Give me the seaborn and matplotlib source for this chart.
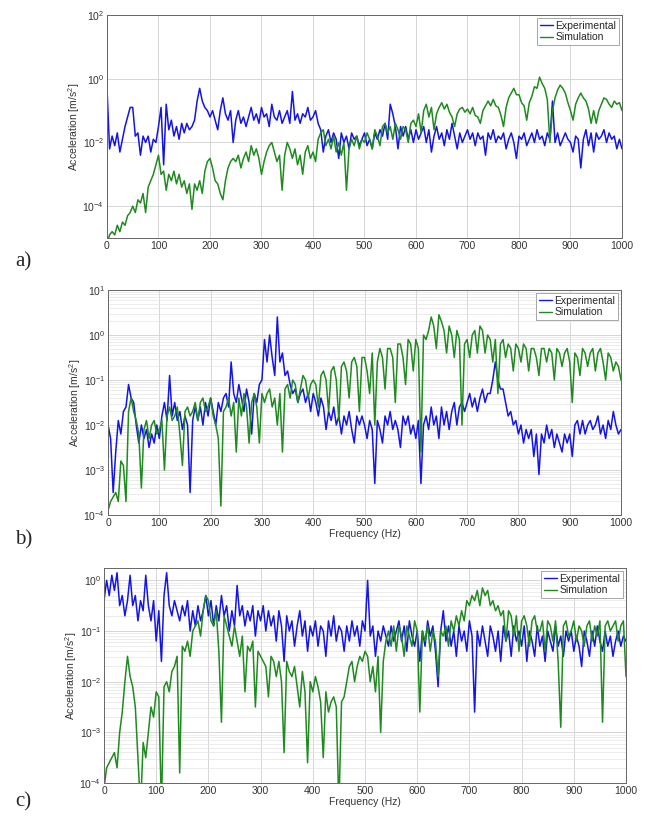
import numpy as np
import pandas as pd
import matplotlib
matplotlib.use("Agg")
import matplotlib.pyplot as plt
from matplotlib.lines import Line2D
import seaborn as sns
from matplotlib.ticker import FixedLocator, LogFormatterSciNotation, LogLocator, NullFormatter

# Frequency axis (Hz), 5 Hz spacing
freq = list(range(0, 1001, 5))

# log10 of acceleration [m/s^2]
a_exp_log = [
    -0.3, -2.2, -1.8, -2.1, -1.7, -2.3, -1.9, -1.5, -1.2, -0.9,
    -0.9, -1.8, -1.7, -2.4, -1.8, -2.0, -1.8, -2.3, -1.9, -2.0,
    -1.5, -0.9, -2.7, -0.8, -1.6, -1.3, -1.8, -1.5, -1.9, -1.4,
    -1.7, -1.4, -1.6, -1.5, -1.3, -0.7, -0.3, -0.7, -0.9, -1.0,
    -1.2, -1.0, -1.3, -1.6, -1.0, -0.6, -1.1, -1.3, -1.0, -2.0,
    -1.3, -1.0, -1.4, -1.2, -1.5, -1.2, -0.9, -1.3, -1.1, -1.4,
    -0.9, -1.2, -1.1, -1.5, -0.8, -1.2, -1.3, -1.0, -1.4, -1.2,
    -1.0, -1.4, -0.4, -1.3, -1.1, -1.4, -1.1, -1.2, -0.9, -1.3,
    -1.2, -1.0, -1.4, -1.6, -2.3, -1.8, -1.6, -2.0, -1.7, -1.9,
    -2.5, -1.7, -2.0, -1.8, -2.2, -1.7, -1.9, -1.8, -2.1, -1.9,
    -1.7, -2.1, -1.9, -2.2, -1.7, -1.9, -1.6, -1.8, -1.4, -1.9,
    -0.8, -1.1, -1.5, -2.2, -1.5, -1.8, -1.5, -1.9, -1.6, -2.0,
    -1.6, -1.9, -1.7, -1.5, -2.0, -1.6, -2.3, -1.8, -1.5, -1.9,
    -1.7, -2.1, -1.6, -1.9, -1.4, -1.8, -2.2, -1.7, -2.0, -1.8,
    -1.6, -1.9, -1.7, -2.1, -1.7, -1.9, -1.8, -2.4, -1.7, -1.9,
    -1.6, -2.0, -1.8, -1.9, -1.7, -2.2, -1.9, -1.7, -2.0, -2.5,
    -1.8, -1.9, -1.7, -2.1, -1.9, -1.7, -2.0, -1.6, -1.9, -1.8,
    -2.1, -1.7, -1.9, -0.7, -2.0, -1.7, -2.1, -1.9, -1.7, -1.9,
    -2.0, -2.3, -1.8, -1.9, -2.8, -1.9, -1.6, -2.1, -1.7, -2.3,
    -1.7, -1.9, -1.8, -1.6, -2.0, -1.7, -1.9, -1.8, -2.2, -1.9,
    -2.2]
a_sim_log = [
    -5.2, -4.9, -4.8, -4.9, -4.6, -4.8, -4.5, -4.6, -4.3, -4.2,
    -4.0, -4.2, -3.8, -3.9, -3.6, -4.2, -3.4, -3.2, -3.0, -2.7,
    -2.4, -3.0, -2.9, -3.5, -3.0, -3.2, -2.9, -3.3, -3.0, -3.4,
    -3.2, -3.6, -3.3, -4.1, -3.3, -3.5, -3.2, -3.6, -2.9, -2.6,
    -2.5, -2.8, -3.2, -3.3, -3.6, -3.8, -3.2, -2.8, -2.6, -2.5,
    -2.6, -2.4, -2.8, -2.5, -2.3, -2.6, -2.1, -2.4, -2.2, -2.5,
    -3.0, -2.6, -2.3, -2.1, -2.0, -2.3, -2.6, -2.4, -3.5, -2.4,
    -2.0, -2.2, -2.5, -2.2, -2.7, -2.4, -3.0, -2.3, -2.1, -2.5,
    -2.3, -2.6, -1.9, -1.7, -1.6, -2.1, -1.9, -2.2, -1.8, -2.3,
    -2.0, -2.4, -2.0, -3.5, -2.2, -1.9, -2.1, -1.8, -2.2, -1.9,
    -2.0, -1.7, -1.9, -2.2, -1.6, -1.8, -2.1, -1.5, -1.4, -1.7,
    -1.5, -1.9, -1.4, -1.6, -1.9, -1.5, -1.6, -2.0, -1.4, -1.3,
    -1.5, -1.1, -1.7, -1.0, -0.8, -1.2, -0.9, -1.6, -1.1, -0.9,
    -0.75, -0.95, -0.8, -1.05, -1.2, -1.5, -1.1, -0.95, -0.9, -1.05,
    -0.95, -1.1, -0.9, -1.15, -1.2, -1.4, -1.0, -0.85, -0.7, -0.85,
    -0.65, -0.85, -0.9, -1.15, -1.5, -0.9, -0.6, -0.45, -0.3, -0.5,
    -0.5, -0.75, -0.85, -1.3, -0.75, -0.55, -0.25, -0.3, 0.05, -0.15,
    -0.3, -0.65, -2.0, -1.0, -0.6, -0.35, -0.2, -0.3, -0.45, -0.75,
    -1.0, -1.3, -0.8, -0.6, -0.45, -0.6, -0.7, -0.95, -1.4, -1.0,
    -1.4, -1.0, -0.8, -0.6, -0.65, -0.8, -0.9, -0.7, -0.8, -0.75,
    -1.0]
b_exp_log = [
    -2.0, -2.3, -3.5, -2.6, -1.9, -2.2, -1.7, -1.6, -1.1, -1.4,
    -1.5, -2.0, -2.4, -2.0, -2.3, -2.1, -2.5, -2.2, -2.4, -2.0,
    -2.3, -1.8, -1.5, -1.9, -0.9, -1.8, -1.5, -1.9, -1.7, -2.1,
    -1.8, -2.0, -3.5, -1.9, -1.6, -1.9, -1.6, -2.0, -1.5, -1.8,
    -1.4, -1.7, -2.0, -1.5, -1.7, -1.4, -1.3, -1.6, -0.6, -1.3,
    -1.5, -1.1, -1.4, -1.7, -1.2, -1.5, -2.2, -1.3, -1.5, -1.1,
    -1.0, -0.1, -0.6, 0.0, -0.5, -0.9, 0.4, -0.6, -0.4, -0.9,
    -0.8, -1.1, -1.3, -1.2, -1.5, -1.3, -1.2, -1.5, -1.3, -1.7,
    -1.3, -1.5, -1.8, -1.4, -1.6, -2.1, -1.7, -1.9, -1.6, -2.0,
    -1.8, -2.2, -1.8, -2.0, -1.7, -2.1, -2.4, -1.8, -2.0, -1.8,
    -2.0, -2.3, -1.9, -2.1, -3.3, -1.9, -2.1, -2.4, -1.8, -2.0,
    -1.7, -2.1, -1.9, -2.1, -2.5, -1.8, -2.0, -1.8, -2.2, -2.0,
    -2.3, -1.9, -3.3, -2.0, -1.8, -2.1, -1.6, -2.0, -1.8, -2.3,
    -1.6, -2.0, -1.7, -2.1, -1.7, -1.5, -2.0, -1.6, -1.5, -1.7,
    -1.5, -1.3, -1.6, -1.4, -1.7, -1.4, -1.2, -1.5, -1.3, -1.3,
    -1.0, -0.6, -1.0, -1.2, -1.2, -1.5, -1.8, -1.7, -2.0, -1.9,
    -2.2, -2.0, -2.4, -2.1, -2.3, -2.1, -2.7, -2.2, -3.1, -2.2,
    -2.4, -2.0, -2.3, -2.1, -2.5, -2.2, -2.4, -2.6, -2.2, -2.4,
    -2.2, -2.7, -2.0, -1.9, -2.2, -1.9, -2.2, -2.0, -1.9, -2.1,
    -2.0, -1.8, -2.2, -2.0, -2.3, -1.9, -2.1, -1.7, -2.0, -2.2,
    -2.1]
b_sim_log = [
    -3.9, -3.7, -3.6, -3.5, -3.7, -2.8, -2.9, -3.7, -1.7, -1.4,
    -1.7, -1.9, -2.2, -3.4, -2.1, -1.9, -2.3, -2.0, -1.9, -2.2,
    -2.1, -1.9, -3.0, -1.8, -1.6, -1.9, -1.8, -1.6, -2.2, -2.9,
    -1.7, -1.6, -1.8, -1.7, -1.5, -1.9, -1.5, -1.4, -1.7, -1.6,
    -1.4, -1.8, -2.0, -2.3, -3.8, -1.7, -1.6, -1.4, -1.8, -1.5,
    -2.6, -1.4, -1.8, -1.3, -1.6, -2.4, -1.5, -1.3, -1.6, -2.4,
    -1.3, -1.5, -1.3, -1.2, -1.6, -1.4, -2.0, -1.3, -2.6, -1.2,
    -1.1, -1.4, -1.0, -1.1, -1.5, -1.2, -0.9, -1.0, -1.4, -1.1,
    -1.0, -1.1, -1.6, -0.9, -0.8, -1.0, -1.7, -0.8, -0.7, -1.0,
    -1.9, -0.7, -0.6, -0.8, -1.4, -0.6, -0.5, -0.7, -1.7, -0.5,
    -0.5, -0.8, -1.3, -0.4, -2.0, -0.6, -0.3, -0.5, -1.2, -0.3,
    -0.3, -0.5, -1.5, -0.2, -0.2, -0.5, -1.1, -0.1, -0.2, -0.8,
    -0.1, -0.3, -2.6, 0.0, -0.1, 0.1, 0.4, 0.2, -0.3, 0.45,
    0.3, 0.1, -0.4, 0.2, 0.0, -0.5, 0.1, -0.1, -2.0, -0.2,
    -0.1, -0.5, 0.0, 0.1, -0.4, 0.2, 0.1, -0.4, 0.0, -0.1,
    -0.6, -0.1, -1.3, -0.2, -0.1, -0.5, -0.2, -0.3, -0.8, -0.2,
    -0.3, -0.6, -0.2, -0.3, -0.8, -0.3, -0.3, -0.5, -0.9, -0.3,
    -0.3, -0.6, -0.3, -0.4, -1.0, -0.3, -0.4, -0.7, -0.4, -0.3,
    -0.6, -1.5, -0.4, -0.5, -0.9, -0.3, -0.4, -0.7, -0.4, -0.3,
    -0.8, -0.4, -0.3, -0.6, -1.0, -0.4, -0.5, -0.8, -0.6, -0.7,
    -1.0]
c_exp_log = [
    -0.4, 0.0, -0.3, 0.1, -0.2, 0.15, -0.5, -0.3, -0.7, -0.4,
    0.1, -0.5, -0.3, -0.8, -0.4, -0.6, 0.1, -0.5, -0.8, -0.4,
    -1.2, -0.6, -1.6, -0.3, 0.15, -0.5, -0.7, -0.4, -0.6, -0.8,
    -0.5, -0.7, -0.4, -1.0, -0.6, -0.9, -0.5, -0.8, -0.6, -0.3,
    -0.7, -0.4, -0.9, -0.5, -0.8, -0.3, -0.7, -0.5, -1.0, -0.6,
    -0.9, -0.1, -0.7, -0.5, -0.9, -0.6, -0.8, -0.5, -1.1, -0.6,
    -0.8, -0.5, -1.0, -0.6, -0.9, -0.7, -1.2, -0.6, -0.9, -1.6,
    -0.7, -1.0, -0.8, -1.3, -0.9, -0.6, -1.1, -0.8, -1.4, -0.9,
    -1.1, -0.8, -1.3, -0.9, -1.0, -1.5, -0.8, -1.1, -0.7, -1.2,
    -0.9, -1.0, -1.4, -0.9, -1.2, -0.8, -1.1, -0.9, -1.3, -0.8,
    -1.0, 0.0, -1.1, -0.9, -1.5, -1.0, -1.2, -0.9, -1.1, -1.3,
    -0.9, -1.2, -1.0, -0.8, -1.2, -0.9, -1.4, -0.8, -1.1, -1.3,
    -1.0, -1.6, -1.0, -1.3, -0.8, -1.1, -0.9, -1.4, -2.1, -1.0,
    -0.6, -1.2, -0.9, -1.3, -1.0, -1.5, -0.9, -1.2, -1.0, -1.4,
    -0.8, -1.1, -2.6, -1.0, -1.3, -0.9, -1.2, -1.5, -0.9, -1.1,
    -1.4, -1.0, -1.6, -0.9, -1.2, -1.0, -1.5, -0.9, -1.2, -1.0,
    -1.3, -0.9, -1.6, -1.0, -1.2, -1.5, -0.9, -1.3, -1.1, -1.6,
    -1.0, -1.2, -1.4, -0.9, -1.3, -1.1, -1.5, -1.0, -1.2, -1.0,
    -1.4, -1.1, -1.3, -1.7, -1.0, -1.2, -1.5, -1.0, -1.3, -0.9,
    -1.2, -1.4, -1.0, -1.3, -1.1, -1.5, -1.2, -1.0, -1.3, -1.1,
    -1.2]
c_sim_log = [
    -4.1, -3.7, -3.6, -3.5, -3.4, -3.7, -3.0, -2.6, -2.0, -1.5,
    -1.9, -2.1, -2.5, -3.5, -4.5, -3.2, -3.5, -3.0, -2.5, -2.7,
    -2.2, -2.3, -4.5, -2.1, -2.0, -2.2, -1.8, -1.7, -1.5, -3.8,
    -1.3, -1.4, -1.2, -1.5, -1.0, -0.9, -0.8, -1.1, -0.6, -0.3,
    -0.4, -0.8, -0.9, -0.6, -1.4, -2.8, -0.7, -0.9, -1.1, -1.3,
    -0.9, -1.2, -1.5, -1.1, -2.2, -1.3, -1.4, -1.2, -2.5, -1.4,
    -1.5, -1.6, -1.7, -2.3, -1.5, -1.6, -1.9, -1.6, -2.0, -3.4,
    -1.6, -1.8, -1.9, -1.7, -2.1, -2.5, -1.8, -2.2, -3.6, -2.0,
    -2.2, -1.9, -2.1, -2.4, -3.5, -2.2, -2.6, -2.4, -2.3, -2.5,
    -4.5, -2.4, -2.3, -2.0, -1.7, -1.6, -2.0, -1.7, -1.5, -1.6,
    -1.4, -1.5, -2.0, -1.7, -2.2, -1.5, -3.0, -1.6, -1.2, -1.0,
    -1.3, -0.9, -1.4, -0.9, -1.1, -1.5, -0.9, -1.1, -1.3, -0.8,
    -1.0, -2.6, -1.0, -1.2, -0.9, -1.4, -1.0, -1.2, -1.9, -1.0,
    -1.1, -0.9, -1.3, -0.8, -1.0, -0.7, -0.9, -0.6, -0.8, -0.4,
    -0.5, -0.3, -0.4, -0.2, -0.5, -0.15, -0.3, -0.2, -0.5, -0.4,
    -0.6, -0.5, -0.7, -0.6, -1.2, -0.6, -0.7, -1.1, -0.7, -1.4,
    -0.8, -0.7, -0.9, -1.3, -0.8, -0.7, -1.0, -1.0, -0.8, -1.4,
    -0.8, -0.9, -1.2, -0.8, -1.6, -2.9, -0.9, -0.8, -1.1, -1.0,
    -0.8, -1.2, -0.9, -1.0, -1.3, -0.9, -0.8, -1.2, -0.9, -1.1,
    -0.8, -2.8, -0.9, -0.8, -1.0, -0.9, -0.8, -1.2, -0.9, -0.8,
    -1.9]

series_names = ["Experimental", "Simulation"]
panel_labels = ["a)", "b)", "c)"]
xticks = list(range(0, 1001, 100))

for arr in (a_exp_log, a_sim_log, b_exp_log, b_sim_log, c_exp_log, c_sim_log):
    assert len(arr) == len(freq), len(arr)

colors = {"Experimental": "#1414e6", "Simulation": "#1f8a1f"}

sns.set_style("white")
plt.rcParams["font.family"] = ["Liberation Sans", "DejaVu Sans"]
plt.rcParams["mathtext.fontset"] = "custom"
plt.rcParams["mathtext.rm"] = "Liberation Sans"
plt.rcParams["mathtext.it"] = "Liberation Sans:italic"
plt.rcParams["path.simplify"] = False

fig = plt.figure(figsize=(6.5, 8.18), dpi=100)

panels = [
    dict(exp=a_exp_log, sim=a_sim_log, pos=[0.1646, 0.709, 0.7923, 0.2726],
         ylim=(1e-5, 1e2), majors=[1e-4, 1e-2, 1e0, 1e2], minor=False, xlabel=False),
    dict(exp=b_exp_log, sim=b_sim_log, pos=[0.1662, 0.3704, 0.7892, 0.2751],
         ylim=(1e-4, 1e1), majors=[1e-4, 1e-3, 1e-2, 1e-1, 1e0, 1e1], minor=True, xlabel=True),
    dict(exp=c_exp_log, sim=c_sim_log, pos=[0.1600, 0.0428, 0.8031, 0.2628],
         ylim=(1e-4, 1.75), majors=[1e-4, 1e-3, 1e-2, 1e-1, 1e0], minor=True, xlabel=True),
]
label_y = [1 - 262 / 818, 1 - 540 / 818, 1 - 802 / 818]

for i, p in enumerate(panels):
    ax = fig.add_axes(p["pos"])
    df = pd.DataFrame({
        "Frequency": freq + freq,
        "Acceleration": list(np.power(10.0, p["exp"])) + list(np.power(10.0, p["sim"])),
        "Series": [series_names[0]] * len(freq) + [series_names[1]] * len(freq),
    })
    sns.lineplot(data=df, x="Frequency", y="Acceleration", hue="Series",
                 palette=colors, estimator=None, linewidth=1.1, ax=ax, legend=False)
    ax.set_yscale("log")
    ax.set_xlim(0, 1000)
    ax.set_ylim(*p["ylim"])
    ax.xaxis.set_major_locator(FixedLocator(xticks))
    ax.yaxis.set_major_locator(FixedLocator(p["majors"]))
    ax.yaxis.set_major_formatter(LogFormatterSciNotation())
    if p["minor"]:
        ax.yaxis.set_minor_locator(LogLocator(base=10, subs=np.arange(2, 10), numticks=20))
        ax.grid(True, which="minor", axis="y", color="#e4e4e4", linewidth=0.5)
    else:
        ax.yaxis.set_minor_locator(FixedLocator([]))
    ax.yaxis.set_minor_formatter(NullFormatter())
    ax.grid(True, which="major", color="#d0d0d0", linewidth=0.6)
    ax.set_axisbelow(True)
    ax.tick_params(axis="both", which="major", direction="in", length=3,
                   labelsize=7.5, colors="#333333", pad=2)
    ax.tick_params(axis="y", which="minor", direction="in", length=1.5, colors="#777777")
    for s in ax.spines.values():
        s.set_color("#666666")
        s.set_linewidth(0.7)
    ax.set_ylabel("Acceleration [m/s$^2$]", fontsize=7.5, color="#333333", labelpad=0)
    if p["xlabel"]:
        ax.set_xlabel("Frequency (Hz)", fontsize=7.5, color="#333333", labelpad=1)
    else:
        ax.set_xlabel("")
    handles = [Line2D([0, 1], [0, 0], color=colors[n], linewidth=1.0) for n in series_names]
    leg = ax.legend(handles, series_names, loc="upper right", fontsize=7.5,
                    handlelength=1.3, handletextpad=0.2, borderpad=0.25,
                    labelspacing=0.15, borderaxespad=0.3, fancybox=False,
                    framealpha=1, edgecolor="#999999")
    leg.get_frame().set_linewidth(0.6)
    fig.text(0.023, label_y[i], panel_labels[i], fontsize=15,
             family=["Liberation Serif", "DejaVu Serif"], va="center", ha="left")

fig.savefig("out.png", dpi=100)
